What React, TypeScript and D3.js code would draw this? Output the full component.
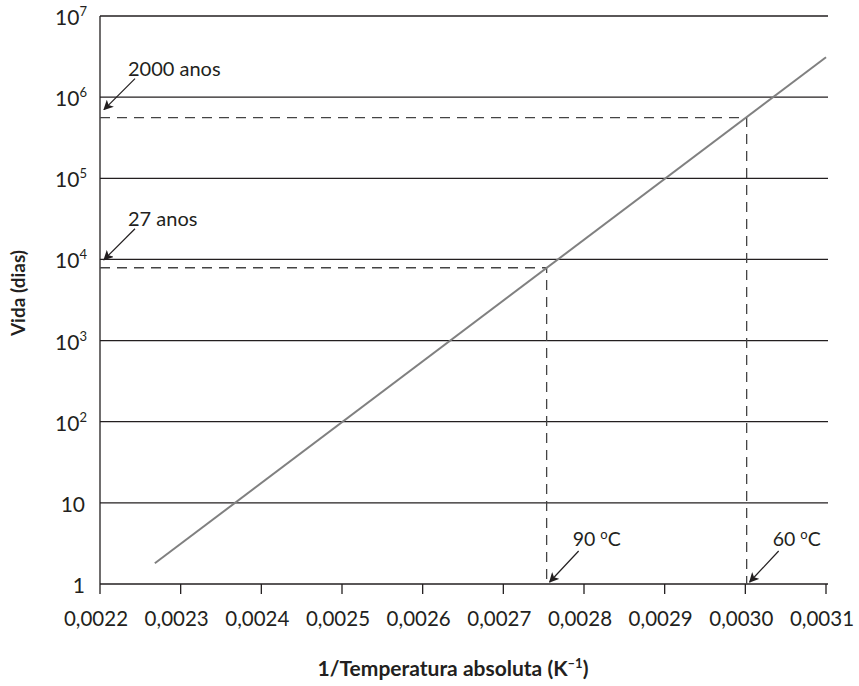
import React from "react";
import * as d3 from "d3";

const width = 859;
const height = 686;
const left = 100;
const right = 826;
const top = 16;
const bottom = 584;

// x ticks (1/K) and y decades
const xTicks = [0.0022, 0.0023, 0.0024, 0.0025, 0.0026, 0.0027, 0.0028, 0.0029, 0.003, 0.0031];
const yExps = [0, 1, 2, 3, 4, 5, 6, 7];

// the life line at its two ends
const lineX = [0.002268, 0.0031];
const lineY = [1.8, 3.1e6];

// dashed guides: temperature marks and the life read at them
const guideLabels = ["90", "60"];
const guideX = [1 / 363.15, 1 / 333.15];
const guideY = [7900, 5.6e5];
const lifeLabels = ["27 anos", "2000 anos"];

const font = "Lato, 'Open Sans', sans-serif";
const ink = "#231f20";

const App = () => {
  const xScale = d3.scaleLinear().domain([0.0022, 0.0031]).range([left, right]);
  const yScale = d3.scaleLog().domain([1, 1e7]).range([bottom, top]);

  const line = d3
    .line<number>()
    .x((d, i) => xScale(d))
    .y((d, i) => yScale(lineY[i]));

  const fmt = (v: number) => v.toFixed(4).replace(".", ",");

  return (
    <>
      <style>{`body{margin:0}`}</style>
      <svg width={width} height={height} style={{ display: "block", fontFamily: font }}>
        <defs>
          <marker
            id="arr"
            viewBox="0 0 10 10"
            refX="9"
            refY="5"
            markerWidth="10"
            markerHeight="10"
            orient="auto"
            markerUnits="userSpaceOnUse"
          >
            <path d="M0,0 L10,5 L0,10 L2.5,5 Z" fill={ink} />
          </marker>
        </defs>

        {/* horizontal grid at each decade */}
        {yExps.map(e => (
          <line
            key={e}
            x1={left}
            x2={right + 2}
            y1={yScale(10 ** e)}
            y2={yScale(10 ** e)}
            stroke={ink}
            strokeWidth={1.3}
          />
        ))}
        <line x1={left} x2={left} y1={top} y2={bottom} stroke={ink} strokeWidth={1.3} />

        {/* y labels */}
        {yExps.map(e => (
          <text
            key={e}
            x={e < 2 ? 85 : 87}
            y={yScale(10 ** e) + 9}
            textAnchor="end"
            fontSize={21}
            fill={ink}
          >
            {e === 0 ? "1" : e === 1 ? "10" : (
              <>
                10
                <tspan fontSize={13} dy={-9}>{e}</tspan>
              </>
            )}
          </text>
        ))}

        {/* x ticks and labels */}
        {xTicks.map(t => (
          <g key={t}>
            <line
              x1={xScale(t)}
              x2={xScale(t)}
              y1={bottom}
              y2={bottom + 10}
              stroke={ink}
              strokeWidth={1.3}
            />
            <text x={xScale(t) - 4} y={bottom + 42} textAnchor="middle" fontSize={20.5} fill={ink}>
              {fmt(t)}
            </text>
          </g>
        ))}

        {/* dashed guides */}
        {guideX.map((gx, i) => (
          <g key={i}>
            <path
              d={`M${left},${yScale(guideY[i])} H${xScale(gx)} V${bottom}`}
              fill="none"
              stroke="#444"
              strokeWidth={1.3}
              strokeDasharray="10,7"
            />
            <line
              x1={xScale(gx) + 32}
              y1={bottom - 33}
              x2={xScale(gx) + 3}
              y2={bottom - 2}
              stroke={ink}
              strokeWidth={1.2}
              markerEnd="url(#arr)"
            />
            <text x={xScale(gx) + 26} y={bottom - 38} fontSize={19.5} fill={ink}>
              {guideLabels[i]}{" "}
              <tspan fontSize={13} dy={-7}>o</tspan>
              <tspan dy={7}>C</tspan>
            </text>
            <line
              x1={left + 35}
              y1={yScale(guideY[i]) - 39}
              x2={left + 4}
              y2={yScale(guideY[i]) - 8}
              stroke={ink}
              strokeWidth={1.2}
              markerEnd="url(#arr)"
            />
            <text x={left + 28} y={yScale(guideY[i]) - 42} fontSize={20} fill={ink}>
              {lifeLabels[i]}
            </text>
          </g>
        ))}

        {/* life line */}
        <path d={line(lineX) || ""} fill="none" stroke="#808080" strokeWidth={2} />

        {/* axis titles */}
        <text
          transform={`translate(25,293) rotate(-90)`}
          textAnchor="middle"
          fontSize={19}
          fontWeight="bold"
          fill={ink}
        >
          Vida (dias)
        </text>
        <text x={453} y={676} textAnchor="middle" fontSize={21} fontWeight="bold" fill={ink}>
          1/Temperatura absoluta (K
          <tspan fontSize={13} dy={-8}>–1</tspan>
          <tspan dy={8}>)</tspan>
        </text>
      </svg>
    </>
  );
};

export default App;
